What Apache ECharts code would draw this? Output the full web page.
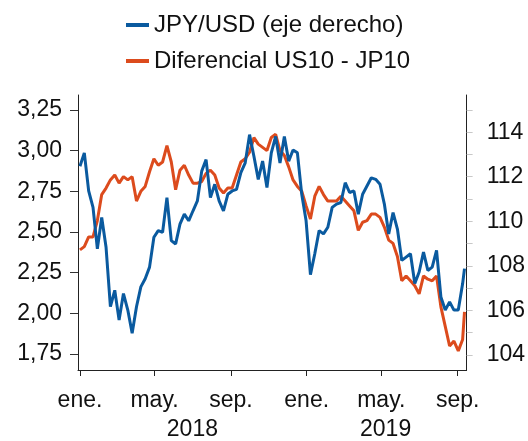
<!DOCTYPE html>
<html>
<head>
<meta charset="utf-8">
<script src="https://cdn.jsdelivr.net/npm/echarts@6/dist/echarts.min.js"></script>
<style>
  html, body { margin: 0; padding: 0; background: #fff; }
  #chart { width: 528px; height: 441px; }
</style>
</head>
<body>
<div id="chart"></div>
<script>
'use strict';

// weekly readings, first week = 2018-01-01, plus the last day shown
const firstWeek = [2018, 0, 1];
const lastDay = [2019, 8, 12];

// Diferencial US10 - JP10 (left axis, %)
const spread = [
  2.39, 2.41, 2.47, 2.47, 2.57, 2.73, 2.77, 2.82, 2.85, 2.80,
  2.84, 2.82, 2.84, 2.69, 2.75, 2.78, 2.87, 2.95, 2.91, 2.93,
  3.03, 2.93, 2.76, 2.88, 2.91, 2.85, 2.80, 2.80, 2.81, 2.86,
  2.88, 2.85, 2.77, 2.74, 2.77, 2.77, 2.85, 2.93, 2.95, 2.99,
  3.08, 3.04, 3.02, 3.00, 3.08, 3.10, 3.00, 2.97, 2.90, 2.82,
  2.78, 2.75, 2.66, 2.58, 2.72, 2.78, 2.73, 2.69, 2.69, 2.69,
  2.72, 2.69, 2.66, 2.63, 2.51, 2.56, 2.57, 2.61, 2.61, 2.59,
  2.53, 2.45, 2.43, 2.35, 2.20, 2.23, 2.20, 2.17, 2.12, 2.23,
  2.21, 2.20, 2.23, 2.04, 1.92, 1.80, 1.83, 1.77, 1.84, 2.01
];

// JPY/USD (right axis)
const jpyusd = [
  112.47, 113.07, 111.36, 110.62, 108.76, 110.17, 108.83, 106.16, 106.90, 105.56,
  106.75, 106.01, 104.97, 106.16, 107.05, 107.42, 107.94, 109.28, 109.58, 109.50,
  111.06, 109.13, 108.98, 109.87, 110.32, 110.02, 110.47, 110.91, 112.25, 112.77,
  111.06, 111.66, 110.91, 110.47, 111.21, 111.36, 111.43, 112.18, 112.62, 113.89,
  112.92, 111.88, 112.70, 111.51, 113.07, 113.81, 112.62, 113.81, 112.70, 113.20,
  113.07, 111.21, 110.02, 107.60, 108.54, 109.58, 109.43, 109.73, 110.62, 110.77,
  110.84, 111.73, 111.29, 111.36, 110.32, 111.21, 111.58, 111.95, 111.88, 111.66,
  110.77, 109.43, 110.39, 109.65, 108.24, 108.39, 108.54, 107.20, 107.72, 108.61,
  107.79, 107.94, 108.69, 106.60, 106.01, 106.38, 106.01, 106.01, 107.20, 107.87
];

const leftTicks = [1.75, 2.00, 2.25, 2.50, 2.75, 3.00, 3.25];
const rightTicks = [104, 105, 106, 107, 108, 109, 110, 111, 112, 113, 114, 115];
const rightLabels = [104, 106, 108, 110, 112, 114];
const monthTicks = [[2018, 0], [2018, 4], [2018, 8], [2019, 0], [2019, 4], [2019, 8]];
const monthNames = ['ene.', 'feb.', 'mar.', 'abr.', 'may.', 'jun.', 'jul.', 'ago.', 'sep.', 'oct.', 'nov.', 'dic.'];
const yearLabels = [[2018, 6, 1], [2019, 4, 8]];

const blue = '#0a5a9f';
const orange = '#dc4b1d';
const font = "'Liberation Sans', Arial, sans-serif";

let dates = [];
for (let k = 0; k < spread.length - 1; k++) {
    dates.push(new Date(firstWeek[0], firstWeek[1], firstWeek[2] + 7 * k).getTime());
}
dates.push(new Date(lastDay[0], lastDay[1], lastDay[2]).getTime());

const pair = function(vals){
    return vals.map(function(v, i){ return [dates[i], v]; });
};

const xMin = new Date(2017, 11, 28, 20).getTime();
const xMax = new Date(2019, 8, 15, 10).getTime();
const monthVals = monthTicks.map(function(m){ return new Date(m[0], m[1], 1).getTime(); });
const yearVals = yearLabels.map(function(m){ return new Date(m[0], m[1], m[2]).getTime(); });

let myChart = echarts.init(document.getElementById('chart'));

let option = {
    animation: false,
    textStyle: { fontFamily: font },
    legend: {
        orient: 'vertical',
        left: 121,
        top: 5,
        itemWidth: 23,
        itemHeight: 4,
        itemGap: 6,
        icon: 'rect',
        textStyle: { fontSize: 24, color: '#111', lineHeight: 30 },
        data: ['JPY/USD (eje derecho)', 'Diferencial US10 - JP10']
    },
    grid: { left: 78, right: 59, top: 95, bottom: 69 },
    xAxis: [
        {
            type: 'value',
            min: xMin,
            max: xMax,
            splitLine: { show: false },
            axisLine: { lineStyle: { color: '#222', width: 1 } },
            axisTick: {
                show: true, length: 6, inside: false,
                lineStyle: { color: '#222' },
                customValues: monthVals
            },
            axisLabel: {
                fontSize: 23, color: '#111', margin: 19,
                customValues: monthVals,
                formatter: function(v){ return monthNames[new Date(v).getMonth()]; }
            }
        },
        {
            type: 'value',
            min: xMin,
            max: xMax,
            position: 'bottom',
            splitLine: { show: false },
            axisLine: { show: false },
            axisTick: { show: false },
            axisLabel: {
                fontSize: 23, color: '#111', margin: 48,
                customValues: yearVals,
                formatter: function(v){ return String(new Date(v).getFullYear()); }
            }
        }
    ],
    yAxis: [
        {
            type: 'value',
            min: 1.6524,
            max: 3.3415,
            splitLine: { show: false },
            axisLine: { show: true, lineStyle: { color: '#222', width: 1 } },
            axisTick: { show: true, length: 8, lineStyle: { color: '#333' }, customValues: leftTicks },
            axisLabel: {
                fontSize: 23, color: '#111', margin: 16,
                customValues: leftTicks,
                formatter: function(v){ return v.toFixed(2).replace('.', ','); }
            }
        },
        {
            type: 'value',
            position: 'right',
            min: 103.319,
            max: 115.669,
            splitLine: { show: false },
            axisLine: { show: true, lineStyle: { color: '#222', width: 1 } },
            axisTick: { show: true, length: 6, lineStyle: { color: '#c8c8c8' }, customValues: rightTicks },
            axisLabel: {
                fontSize: 23, color: '#111', margin: 20,
                customValues: rightLabels,
                formatter: function(v){ return String(v); }
            }
        }
    ],
    series: [
        {
            name: 'Diferencial US10 - JP10',
            type: 'line',
            yAxisIndex: 0,
            showSymbol: false,
            color: orange,
            lineStyle: { width: 3, color: orange },
            data: pair(spread)
        },
        {
            name: 'JPY/USD (eje derecho)',
            type: 'line',
            yAxisIndex: 1,
            showSymbol: false,
            color: blue,
            lineStyle: { width: 3, color: blue },
            data: pair(jpyusd)
        }
    ]
};
myChart.setOption(option);
</script>
</body>
</html>
